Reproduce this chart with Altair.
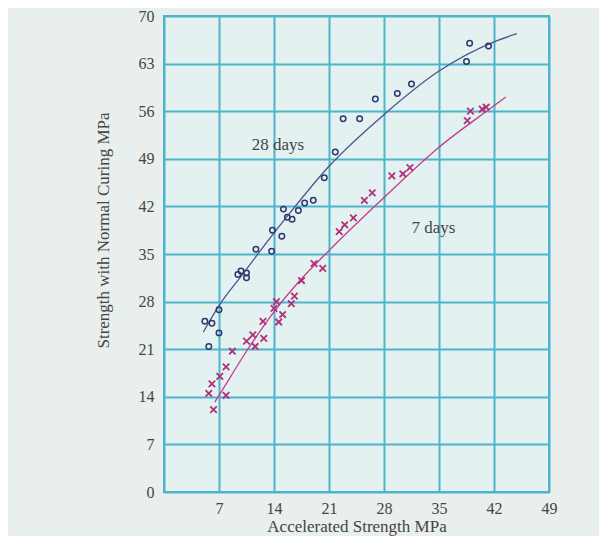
import altair as alt
import pandas as pd

# 28 days measurements (circles)
d28_x = [5.2, 6.1, 5.7, 7.0, 7.0, 9.4, 9.8, 10.5, 10.5, 11.7, 13.7, 13.8, 15.0, 15.2,
         15.7, 16.3, 17.1, 17.9, 19.0, 20.4, 21.8, 22.8, 24.9, 26.9, 29.7, 31.5,
         38.5, 38.9, 41.3]
d28_y = [25.1, 24.8, 21.4, 23.4, 26.8, 32.0, 32.5, 32.2, 31.5, 35.7, 35.4, 38.5, 37.6, 41.6,
         40.4, 40.1, 41.4, 42.5, 42.9, 46.2, 50.0, 54.9, 54.9, 57.8, 58.6, 60.0,
         63.3, 66.0, 65.6]

# 7 days measurements (crosses)
d7_x = [6.1, 5.7, 6.3, 7.1, 7.9, 7.9, 8.7, 10.5, 11.3, 11.6, 12.6, 12.7, 14.0, 14.3,
        14.6, 15.1, 16.2, 16.6, 17.5, 19.1, 20.2, 22.3, 23.0, 24.1, 25.5, 26.5,
        29.0, 30.4, 31.3, 38.6, 39.0, 40.5, 41.0]
d7_y = [15.9, 14.5, 12.1, 17.0, 18.4, 14.2, 20.7, 22.2, 23.1, 21.4, 25.1, 22.6, 27.0, 28.0,
        25.0, 26.1, 27.7, 28.8, 31.1, 33.6, 32.9, 38.3, 39.3, 40.3, 42.9, 44.0,
        46.5, 46.8, 47.7, 54.6, 56.0, 56.3, 56.6]

# fitted curves
c28_x = [5.0, 7.0, 10.0, 13.0, 16.0, 21.0, 28.0, 35.0, 42.0, 44.9]
c28_y = [23.5, 27.4, 32.0, 36.6, 41.0, 47.9, 55.5, 61.9, 66.2, 67.4]
c7_x = [6.45, 7.0, 10.5, 14.0, 17.3, 21.0, 28.0, 35.0, 42.0, 43.5]
c7_y = [13.2, 14.2, 20.7, 26.5, 31.1, 35.5, 43.3, 50.7, 56.8, 58.1]

# annotations
lab_text = ["28 days", "7 days"]
lab_x = [14.5, 34.3]
lab_y = [51.0, 38.8]

x_ticks = [0, 7, 14, 21, 28, 35, 42, 49]
y_ticks = [0, 7, 14, 21, 28, 35, 42, 49, 56, 63, 70]

GRID = "#4db4cc"
TXT = "#454545"
FONT = "Liberation Serif"

xs = alt.Scale(domain=[0, 49], nice=False, zero=False)
ys = alt.Scale(domain=[0, 70], nice=False, zero=False)

xaxis = alt.Axis(
    title="Accelerated Strength MPa", values=x_ticks, grid=True, gridColor=GRID,
    gridWidth=2, gridOpacity=1, domain=False, ticks=False, labelFont=FONT,
    labelFontSize=16, labelColor=TXT, labelPadding=8, labelFlush=False,
    labelOverlap=False, labelExpr="datum.value == 0 ? '' : datum.label",
    titleFont=FONT, titleFontSize=17, titleFontWeight="normal", titleColor=TXT,
    titleY=39, titleBaseline="alphabetic",
)
yaxis = alt.Axis(
    title="Strength with Normal Curing MPa", values=y_ticks, grid=True, gridColor=GRID,
    gridWidth=2, gridOpacity=1, domain=False, ticks=False, labelFont=FONT,
    labelFontSize=16, labelColor=TXT, labelPadding=10, labelFlush=False,
    labelOverlap=False, titleFont=FONT, titleFontSize=17, titleFontWeight="normal",
    titleColor=TXT, titleX=-61, titleY=214, titleBaseline="middle", titleAngle=-90,
    titleAlign="center",
)

X = alt.X("x:Q", scale=xs, axis=xaxis)
Y = alt.Y("y:Q", scale=ys, axis=yaxis)

df28 = pd.DataFrame({"x": d28_x, "y": d28_y})
df7 = pd.DataFrame({"x": d7_x, "y": d7_y})
dc28 = pd.DataFrame({"x": c28_x, "y": c28_y})
dc7 = pd.DataFrame({"x": c7_x, "y": c7_y})
dlab = pd.DataFrame({"x": lab_x, "y": lab_y, "t": lab_text})

line28 = alt.Chart(dc28).mark_line(color="#4e5290", strokeWidth=1.3, interpolate="monotone").encode(x=X, y=Y)
line7 = alt.Chart(dc7).mark_line(color="#c73a8f", strokeWidth=1.3, interpolate="monotone").encode(x=X, y=Y)
pts28 = alt.Chart(df28).mark_point(shape="circle", filled=False, color="#30376f",
                                   size=30, strokeWidth=1.5, opacity=1).encode(x=X, y=Y)
pts7 = alt.Chart(df7).mark_point(shape="M -1 -1 L 1 1 M -1 1 L 1 -1", filled=False,
                                 color="#b0307c", size=42, strokeWidth=1.8, opacity=1).encode(x=X, y=Y)
labels = alt.Chart(dlab).mark_text(font=FONT, fontSize=17, color=TXT, align="center",
                                   baseline="middle").encode(x=X, y=Y, text="t:N")

chart = alt.layer(line28, line7, pts28, pts7, labels).properties(
    width=385, height=476,
    autosize=alt.AutoSizeParams(type="none"),
    padding={"left": 156, "top": 8, "right": 50, "bottom": 44},
    background="#e8efec",
).configure_view(fill="#e3f1f0", stroke=GRID, strokeWidth=2)

chart.save("out.html", embed_options={"renderer": "svg", "actions": False})
